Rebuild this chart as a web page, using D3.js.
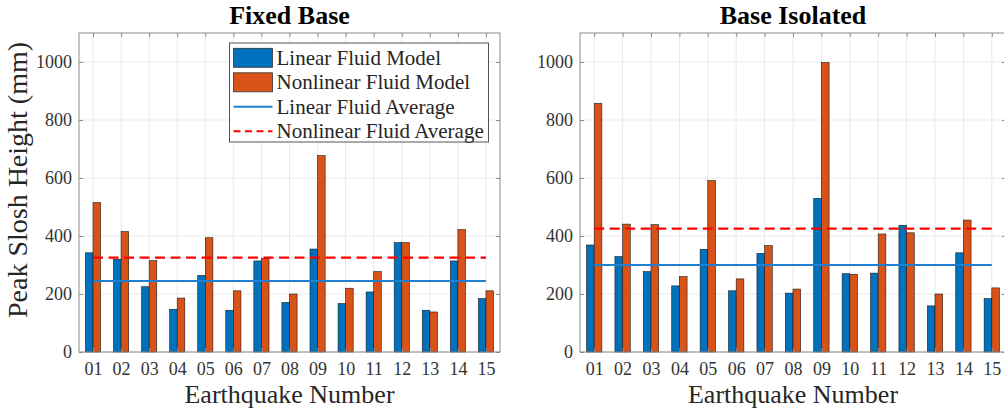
<!DOCTYPE html>
<html>
<head>
<meta charset="utf-8">
<script src="https://cdn.jsdelivr.net/npm/d3@7"></script>
<style>
  html, body { margin: 0; padding: 0; background: #fff; }
  svg { display: block; font-family: "Liberation Serif", "Times New Roman", serif; }
</style>
</head>
<body>
<svg id="chart" width="1004" height="413"></svg>
<script>
// Earthquake record labels
const categories = ["01","02","03","04","05","06","07","08","09","10","11","12","13","14","15"];

// Peak slosh heights (mm), fixed-base structure
const fixedLinear    = [342, 320, 225, 147, 264, 144, 314, 171, 355, 167, 207, 377, 144, 314, 184];
const fixedNonlinear = [515, 415, 315, 186, 394, 211, 323, 200, 677, 220, 277, 377, 138, 422, 211];

// Peak slosh heights (mm), base-isolated structure
const isoLinear    = [369, 329, 277, 228, 354, 211, 340, 203, 530, 270, 272, 437, 159, 342, 184];
const isoNonlinear = [857, 441, 439, 260, 591, 252, 367, 217, 998, 268, 407, 411, 200, 455, 221];

const yTicks = [0, 200, 400, 600, 800, 1000];
const yDomain = [0, 1100];

const seriesNames = ["Linear Fluid Model", "Nonlinear Fluid Model", "Linear Fluid Average", "Nonlinear Fluid Average"];

const BLUE = "#0072BD", ORANGE = "#D95319", RED = "#FF0000";
const AXIS = "#8c8c8c", GRID = "#e9e9e9", TICKTXT = "#333";
const SERIF = "'Liberation Serif', 'Times New Roman', serif";

const svg = d3.select("#chart");

function panel(opts) {
  const { left, right, top, bottom, title, lin, non, showYLabel, showLegend } = opts;
  const g = svg.append("g");
  const idx = categories.map((c, i) => i + 1);

  const x = d3.scaleLinear().domain([0.5, 15.5]).range([left, right]);
  const y = d3.scaleLinear().domain(yDomain).range([bottom, top]);

  // grid
  g.append("g").selectAll("line.gx").data(idx).join("line")
    .attr("x1", d => x(d)).attr("x2", d => x(d))
    .attr("y1", top).attr("y2", bottom)
    .attr("stroke", GRID).attr("stroke-width", 1);
  g.append("g").selectAll("line.gy").data(yTicks).join("line")
    .attr("x1", left).attr("x2", right)
    .attr("y1", d => y(d)).attr("y2", d => y(d))
    .attr("stroke", GRID).attr("stroke-width", 1);

  // bars
  const bw = 0.27;
  const bars = g.append("g");
  bars.selectAll("rect.lin").data(lin).join("rect")
    .attr("x", (d, i) => x(i + 1 - bw))
    .attr("width", x(bw) - x(0))
    .attr("y", d => y(d))
    .attr("height", d => y(0) - y(d))
    .attr("fill", BLUE).attr("stroke", "#1a1a1a").attr("stroke-width", 0.6);
  bars.selectAll("rect.non").data(non).join("rect")
    .attr("x", (d, i) => x(i + 1))
    .attr("width", x(bw) - x(0))
    .attr("y", d => y(d))
    .attr("height", d => y(0) - y(d))
    .attr("fill", ORANGE).attr("stroke", "#1a1a1a").attr("stroke-width", 0.6);

  // averages
  const linAvg = d3.mean(lin), nonAvg = d3.mean(non);
  g.append("line")
    .attr("x1", x(1)).attr("x2", x(15)).attr("y1", y(linAvg)).attr("y2", y(linAvg))
    .attr("stroke", "#1f7fd0").attr("stroke-width", 2);
  g.append("line")
    .attr("x1", x(1)).attr("x2", x(15)).attr("y1", y(nonAvg)).attr("y2", y(nonAvg))
    .attr("stroke", RED).attr("stroke-width", 2.2).attr("stroke-dasharray", "10,5.5");

  // axes with inward ticks on all four sides
  const tl = 4;
  const bottomAxis = d3.axisBottom(x).tickValues(idx).tickFormat(d => categories[d - 1]).tickSizeInner(-tl).tickSizeOuter(0).tickPadding(10);
  const topAxis = d3.axisTop(x).tickValues(idx).tickFormat("").tickSizeInner(-tl).tickSizeOuter(0);
  const leftAxis = d3.axisLeft(y).tickValues(yTicks).tickFormat(d3.format("d")).tickSizeInner(-tl).tickSizeOuter(0).tickPadding(7);
  const rightAxis = d3.axisRight(y).tickValues(yTicks).tickFormat("").tickSizeInner(-tl).tickSizeOuter(0);

  const styleAxis = sel => {
    sel.attr("font-family", SERIF).attr("font-size", 18);
    sel.select(".domain").remove();
    sel.selectAll(".tick line").attr("stroke", AXIS);
    sel.selectAll("text").attr("fill", TICKTXT);
  };
  g.append("g").attr("transform", `translate(0,${bottom})`).call(bottomAxis).call(styleAxis);
  g.append("g").attr("transform", `translate(0,${top})`).call(topAxis).call(styleAxis);
  g.append("g").attr("transform", `translate(${left},0)`).call(leftAxis).call(styleAxis);
  g.append("g").attr("transform", `translate(${right},0)`).call(rightAxis).call(styleAxis);

  // box
  g.append("rect").attr("x", left).attr("y", top).attr("width", right - left).attr("height", bottom - top)
    .attr("fill", "none").attr("stroke", AXIS).attr("stroke-width", 1);

  // titles and labels
  g.append("text").attr("x", (left + right) / 2).attr("y", 24).attr("text-anchor", "middle")
    .style("font-size", "26px").style("font-weight", "bold").attr("fill", "#000").text(title);
  g.append("text").attr("x", (left + right) / 2).attr("y", 403).attr("text-anchor", "middle")
    .style("font-size", "26px").attr("fill", "#262626").text("Earthquake Number");
  if (showYLabel) {
    g.append("text").attr("transform", `translate(27,180) rotate(-90)`).attr("text-anchor", "middle")
      .style("font-size", "28px").attr("fill", "#262626").text("Peak Slosh Height (mm)");
  }

  if (showLegend) {
    const lg = g.append("g");
    lg.append("rect").attr("x", 229.5).attr("y", 43).attr("width", 259).attr("height", 99)
      .attr("fill", "#fff").attr("stroke", "#555").attr("stroke-width", 1);
    const rows = [57.8, 82.3, 106.8, 131.3];
    const items = [
      { type: "patch", color: BLUE },
      { type: "patch", color: ORANGE },
      { type: "line", color: "#1f7fd0", dash: null },
      { type: "line", color: RED, dash: "7,4.5" }
    ];
    items.forEach((it, i) => {
      const cy = rows[i];
      if (it.type === "patch") {
        lg.append("rect").attr("x", 233.5).attr("y", cy - 9.5).attr("width", 39).attr("height", 19)
          .attr("fill", it.color).attr("stroke", "#333").attr("stroke-width", 0.8);
      } else {
        const l = lg.append("line").attr("x1", 233.5).attr("x2", 272.5).attr("y1", cy).attr("y2", cy)
          .attr("stroke", it.color).attr("stroke-width", 2);
        if (it.dash) l.attr("stroke-dasharray", it.dash);
      }
      lg.append("text").attr("x", 276.5).attr("y", cy).attr("dy", "0.33em")
        .style("font-size", "21px").attr("fill", "#262626").text(seriesNames[i]);
    });
  }
}

svg.append("rect").attr("width", 1004).attr("height", 413).attr("fill", "#fff");

panel({ left: 79, right: 500, top: 33, bottom: 352, title: "Fixed Base",
        lin: fixedLinear, non: fixedNonlinear, showYLabel: true, showLegend: true });
panel({ left: 580, right: 1006, top: 33, bottom: 352, title: "Base Isolated",
        lin: isoLinear, non: isoNonlinear, showYLabel: false, showLegend: false });
</script>
</body>
</html>
